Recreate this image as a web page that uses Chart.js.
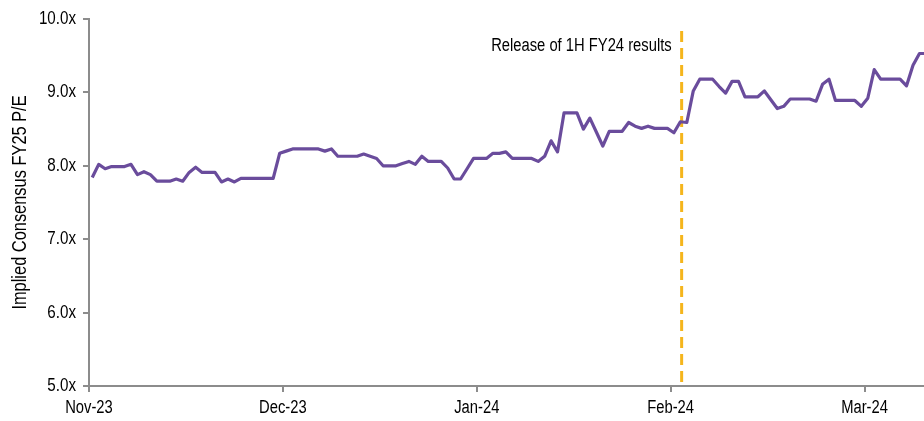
<!DOCTYPE html>
<html>
<head>
<meta charset="utf-8">
<script src="https://cdn.jsdelivr.net/npm/chart.js@4.4.1/dist/chart.umd.min.js"></script>
<style>
  html, body { margin: 0; padding: 0; background: #fff; }
  canvas { display: block; }
</style>
</head>
<body>
<canvas id="peChart" width="924" height="421"></canvas>
<script>
// Implied consensus FY25 P/E, one value per day from 1 Nov 2023
const peValues = [
  7.84, 8.02, 7.96, 7.99, 7.99, 7.99, 8.02, 7.88, 7.92, 7.88,
  7.79, 7.79, 7.79, 7.82, 7.79, 7.91, 7.98, 7.91, 7.91, 7.91,
  7.78, 7.82, 7.78, 7.83, 7.83, 7.83, 7.83, 7.83, 7.83, 8.17,
  8.20, 8.23, 8.23, 8.23, 8.23, 8.23, 8.20, 8.23, 8.13, 8.13,
  8.13, 8.13, 8.16, 8.13, 8.10, 8.00, 8.00, 8.00, 8.03, 8.06,
  8.02, 8.13, 8.06, 8.06, 8.06, 7.97, 7.82, 7.82, 7.96, 8.10,
  8.10, 8.10, 8.17, 8.17, 8.19, 8.10, 8.10, 8.10, 8.10, 8.06,
  8.13, 8.34, 8.19, 8.72, 8.72, 8.72, 8.50, 8.65, 8.46, 8.27,
  8.47, 8.47, 8.47, 8.59, 8.54, 8.51, 8.54, 8.51, 8.51, 8.51,
  8.45, 8.60, 8.59, 9.02, 9.18, 9.18, 9.18, 9.08, 8.99, 9.15,
  9.15, 8.94, 8.94, 8.94, 9.02, 8.90, 8.78, 8.81, 8.91, 8.91,
  8.91, 8.91, 8.88, 9.11, 9.18, 8.89, 8.89, 8.89, 8.89, 8.81,
  8.92, 9.31, 9.18, 9.18, 9.18, 9.18, 9.09, 9.37, 9.53, 9.53
];

// month labels and the index where each month's group starts
const monthLabels = ['Nov-23', 'Dec-23', 'Jan-24', 'Feb-24', 'Mar-24'];
const monthStarts = [0, 30, 60, 90, 120];
const yTickValues = [5, 6, 7, 8, 9, 10];
const yTitle = 'Implied Consensus FY25 P/E';

// results release marker
const releaseIndex = 91.2;
const releaseText = 'Release of 1H FY24 results';

const FONT = '"Liberation Sans", Arial, sans-serif';
const NARROW = 0.82; // squeeze Liberation Sans to an Arial Narrow width
const AXIS_GREY = '#8c8c8c';

function narrowText(ctx, text, x, y, size, align) {
  ctx.save();
  ctx.translate(x, y);
  ctx.scale(NARROW, 1);
  ctx.font = size + 'px ' + FONT;
  ctx.textAlign = align;
  ctx.textBaseline = 'middle';
  ctx.fillStyle = '#000';
  ctx.fillText(text, 0, 0);
  ctx.restore();
}

const releaseLine = {
  id: 'releaseLine',
  beforeDatasetsDraw(chart) {
    const { ctx, chartArea, scales } = chart;
    const x = scales.x.getPixelForValue(releaseIndex);
    ctx.save();
    ctx.strokeStyle = '#f5b51c';
    ctx.lineWidth = 3;
    ctx.setLineDash([11, 6]);
    ctx.beginPath();
    ctx.moveTo(x, chartArea.top + 12);
    ctx.lineTo(x, chartArea.bottom - 1);
    ctx.stroke();
    ctx.restore();
    narrowText(ctx, releaseText, x - 10, chartArea.top + 27, 18, 'right');
  }
};

// axis labels drawn in a condensed face
const axisText = {
  id: 'axisText',
  afterDraw(chart) {
    const { ctx, chartArea, scales } = chart;
    scales.x.ticks.forEach((t, i) => {
      narrowText(ctx, monthLabels[i], scales.x.getPixelForValue(t.value), chartArea.bottom + 22, 18, 'center');
    });
    yTickValues.forEach(v => {
      narrowText(ctx, v.toFixed(1) + 'x', chartArea.left - 13, scales.y.getPixelForValue(v), 18.5, 'right');
    });
    ctx.save();
    ctx.translate(20, (chartArea.top + chartArea.bottom) / 2);
    ctx.rotate(-Math.PI / 2);
    narrowText(ctx, yTitle, 0, 0, 20, 'center');
    ctx.restore();
  }
};

new Chart(document.getElementById('peChart').getContext('2d'), {
  type: 'line',
  data: {
    datasets: [{
      label: yTitle,
      data: peValues.map((v, i) => ({ x: i, y: v })),
      borderColor: '#6a4c9c',
      borderWidth: 3.2,
      borderJoinStyle: 'round',
      pointRadius: 0,
      tension: 0,
      fill: false
    }]
  },
  options: {
    responsive: false,
    animation: false,
    layout: { padding: { top: 19, right: 0, bottom: 0, left: 0 } },
    plugins: {
      legend: { display: false },
      tooltip: { enabled: false }
    },
    scales: {
      x: {
        type: 'linear',
        min: -0.5,
        max: 128.7,
        afterBuildTicks: (scale) => {
          scale.ticks = monthStarts.map(v => ({ value: v - 0.5 }));
        },
        afterFit: (scale) => { scale.height = 35; },
        grid: { drawOnChartArea: false, drawTicks: true, tickLength: 6, color: AXIS_GREY, lineWidth: 2 },
        border: { color: AXIS_GREY, width: 2 },
        ticks: { autoSkip: false, maxRotation: 0, color: 'rgba(0,0,0,0)', font: { size: 12 } }
      },
      y: {
        min: 5,
        max: 10,
        afterBuildTicks: (scale) => {
          scale.ticks = yTickValues.map(v => ({ value: v }));
        },
        afterFit: (scale) => { scale.width = 89; },
        grid: { drawOnChartArea: false, drawTicks: true, tickLength: 6, color: AXIS_GREY, lineWidth: 2 },
        border: { color: AXIS_GREY, width: 2 },
        ticks: { color: 'rgba(0,0,0,0)', font: { size: 12 } }
      }
    }
  },
  plugins: [releaseLine, axisText]
});
</script>
</body>
</html>
